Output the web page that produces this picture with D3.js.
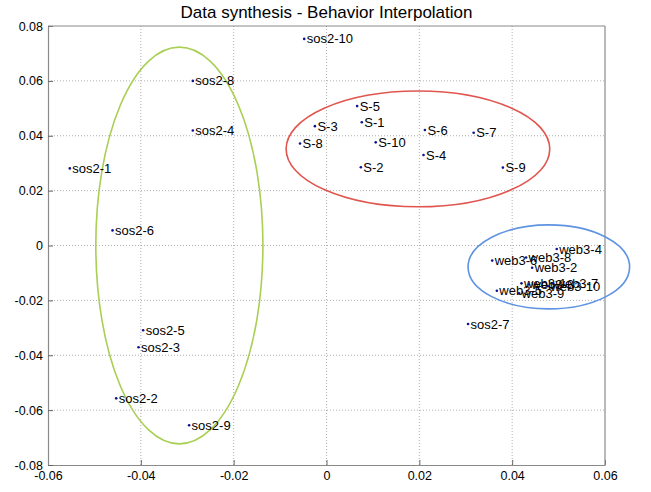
<!DOCTYPE html>
<html>
<head>
<meta charset="utf-8">
<script src="https://cdn.jsdelivr.net/npm/d3@7"></script>
<style>
  html, body { margin: 0; padding: 0; background: #fff; }
  text { font-family: "Liberation Sans", Arial, Helvetica, sans-serif; }
</style>
</head>
<body>
<div id="chart"></div>
<script>
// ---- data ----
const labels = [
  "sos2-1","sos2-2","sos2-3","sos2-4","sos2-5","sos2-6","sos2-7","sos2-8","sos2-9","sos2-10",
  "S-1","S-2","S-3","S-4","S-5","S-6","S-7","S-8","S-9","S-10",
  "web3-1","web3-2","web3-3","web3-4","web3-5","web3-6","web3-7","web3-8","web3-9","web3-10"
];
const xValues = [
  -0.0553,-0.0453,-0.0405,-0.0288,-0.0395,-0.0461,0.0305,-0.0288,-0.0296,-0.0048,
  0.0076,0.0074,-0.0025,0.0209,0.0066,0.0212,0.0317,-0.0057,0.0380,0.0106,
  0.0420,0.0443,0.0436,0.0496,0.0367,0.0357,0.0488,0.0430,0.0415,0.0477
];
const yValues = [
  0.0281,-0.0557,-0.0371,0.0419,-0.0309,0.0055,-0.0286,0.0600,-0.0655,0.0753,
  0.0449,0.0285,0.0435,0.0330,0.0508,0.0421,0.0411,0.0372,0.0284,0.0376,
  -0.0138,-0.0081,-0.0142,-0.0013,-0.0165,-0.0055,-0.0138,-0.0044,-0.0174,-0.0148
];
const xTicks = [-0.06,-0.04,-0.02,0,0.02,0.04,0.06];
const yTicks = [-0.08,-0.06,-0.04,-0.02,0,0.02,0.04,0.06,0.08];
const xTickLabels = ["-0.06","-0.04","-0.02","0","0.02","0.04","0.06"];
const yTickLabels = ["-0.08","-0.06","-0.04","-0.02","0","0.02","0.04","0.06","0.08"];
// cluster ellipses: centre x, centre y, radius x, radius y (data units)
const ellipseNames = ["sos2","S","web3"];
const ellipseCx = [-0.0317, 0.0197, 0.0479];
const ellipseCy = [0.0000, 0.0352, -0.0078];
const ellipseRx = [0.0180, 0.0284, 0.0174];
const ellipseRy = [0.0723, 0.0211, 0.0153];
const ellipseColors = ["#a9cf54", "#e0564f", "#5e93e2"];
const title = "Data synthesis - Behavior Interpolation";

// ---- layout ----
const W = 651, H = 492;
const margin = {top: 26, right: 46, bottom: 27, left: 48};
const iw = W - margin.left - margin.right;
const ih = H - margin.top - margin.bottom;

const svg = d3.select("#chart").append("svg")
  .attr("width", W).attr("height", H);

const x = d3.scaleLinear().domain([-0.06, 0.06]).range([0, iw]);
const y = d3.scaleLinear().domain([-0.08, 0.08]).range([ih, 0]);

const g = svg.append("g").attr("transform", `translate(${margin.left},${margin.top})`);

// grid
g.append("g").selectAll("line").data(xTicks.slice(1, -1)).join("line")
  .attr("x1", d => x(d)).attr("x2", d => x(d))
  .attr("y1", 0).attr("y2", ih)
  .attr("stroke", "#9a9a9a").attr("stroke-width", 0.8)
  .attr("stroke-dasharray", "1,2");
g.append("g").selectAll("line").data(yTicks.slice(1, -1)).join("line")
  .attr("y1", d => y(d)).attr("y2", d => y(d))
  .attr("x1", 0).attr("x2", iw)
  .attr("stroke", "#9a9a9a").attr("stroke-width", 0.8)
  .attr("stroke-dasharray", "1,2");

// axes
const xAxis = d3.axisBottom(x).tickValues(xTicks)
  .tickFormat((d, i) => xTickLabels[i]).tickSizeInner(-5).tickSizeOuter(0).tickPadding(9);
const yAxis = d3.axisLeft(y).tickValues(yTicks)
  .tickFormat((d, i) => yTickLabels[i]).tickSizeInner(-5).tickSizeOuter(0).tickPadding(9);

const gx = g.append("g").attr("transform", `translate(0,${ih})`).call(xAxis);
const gy = g.append("g").call(yAxis);
[gx, gy].forEach(a => {
  a.select(".domain").attr("stroke", "#8a8a8a").attr("stroke-width", 1.2);
  a.selectAll(".tick line").attr("stroke", "#666");
  a.selectAll(".tick text").attr("fill", "#000").style("font-size", "12.5px")
    .style("font-family", "'Liberation Sans', Arial, sans-serif");
});
gx.selectAll(".tick text").attr("dy", "0.5em");
gy.selectAll(".tick text").attr("dx", "4px");

// top and right border
g.append("line").attr("x1", 0).attr("x2", iw).attr("y1", 0).attr("y2", 0)
  .attr("stroke", "#8a8a8a").attr("stroke-width", 1.2);
g.append("line").attr("x1", iw).attr("x2", iw).attr("y1", 0).attr("y2", ih)
  .attr("stroke", "#8a8a8a").attr("stroke-width", 1.2);

// ellipses
g.append("g").selectAll("ellipse").data(ellipseNames).join("ellipse")
  .attr("cx", (d, i) => x(ellipseCx[i]))
  .attr("cy", (d, i) => y(ellipseCy[i]))
  .attr("rx", (d, i) => x(ellipseRx[i]) - x(0))
  .attr("ry", (d, i) => y(0) - y(ellipseRy[i]))
  .attr("fill", "none")
  .attr("stroke", (d, i) => ellipseColors[i])
  .attr("stroke-width", 1.6);

// points + labels
const pts = g.append("g").selectAll("g").data(labels).join("g")
  .attr("transform", (d, i) => `translate(${x(xValues[i])},${y(yValues[i])})`);
pts.append("circle").attr("r", 1.3).attr("fill", "#101090");
pts.append("text").text(d => d)
  .attr("x", 2.5).attr("y", 0).attr("dy", "0.35em")
  .style("font-size", "13px").attr("fill", "#000");

// title
svg.append("text").attr("x", margin.left + iw / 2).attr("y", 18)
  .attr("text-anchor", "middle").style("font-size", "17px").attr("fill", "#000")
  .text(title);
</script>
</body>
</html>
